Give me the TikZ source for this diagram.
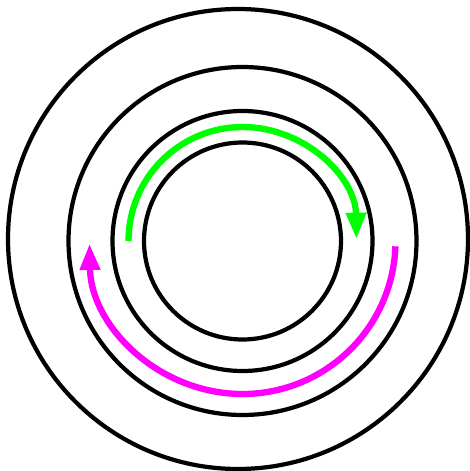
\documentclass[tikz,border=0pt]{standalone}
\usepackage{xcolor}
\usepackage{tikz}
\usetikzlibrary{arrows.meta}

\definecolor{spingreen}{RGB}{0,255,0}
\definecolor{spinpink}{RGB}{255,0,255}

\begin{document}
\begin{tikzpicture}[
  x=0.02cm, y=0.02cm,
  ring/.style={draw=black, line width=2.4pt},
  flow/.style={line width=3.6pt, -{Triangle[length=15pt, width=11pt]}},
]
  \useasboundingbox (0,0) rectangle (470,471);

  \coordinate (mid) at (242.5,230);
  \coordinate (outermid) at (238,232);

  % rings
  \draw[ring] (outermid) circle[radius=230];
  \draw[ring] (mid) circle[radius=174];
  \draw[ring] (mid) circle[radius=130];
  \draw[ring] (mid) circle[radius=98.5];

  % rotation arrows
  \draw[flow, spingreen] ([shift={(180:114)}]mid) arc[start angle=180, end angle=1, radius=114];
  \draw[flow, spinpink] ([shift={(-2:153)}]mid) arc[start angle=-2, end angle=-179, radius=153];

\end{tikzpicture}
\end{document}
